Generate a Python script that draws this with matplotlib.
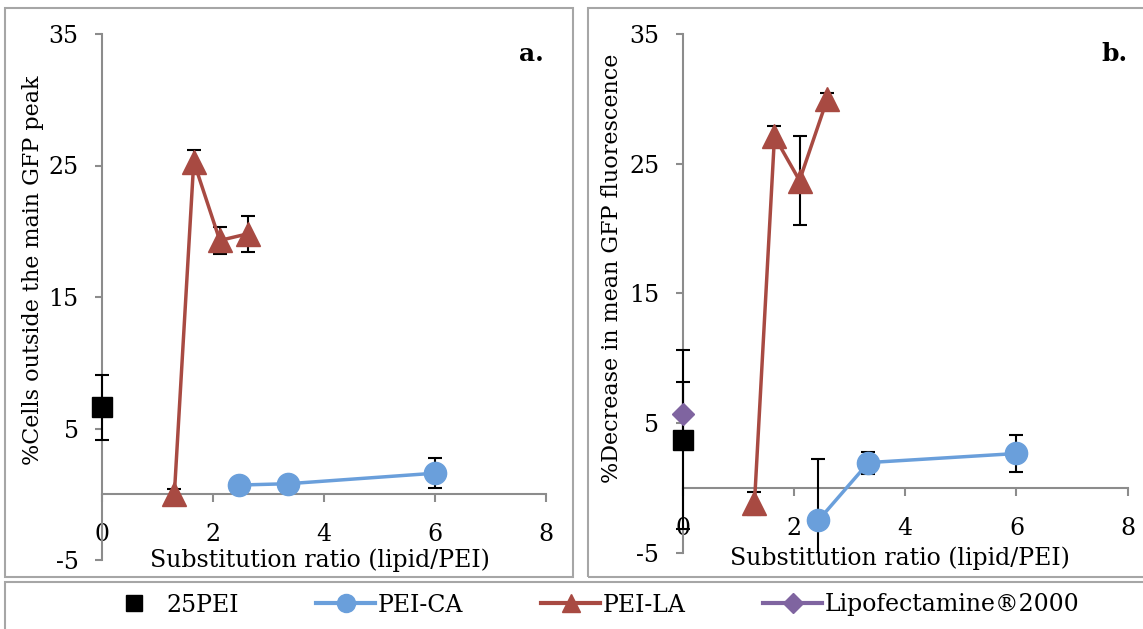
import matplotlib
matplotlib.use("Agg")
import matplotlib.pyplot as plt
from matplotlib.lines import Line2D
from matplotlib.patches import Rectangle
from matplotlib.transforms import Bbox, TransformedBbox

plt.rcParams['font.family'] = ['DejaVu Serif']
plt.rcParams['axes.unicode_minus'] = False

# ---- data -------------------------------------------------------------
# Panel a: % cells outside the main GFP peak
a_pei25_x = [0.0]
a_pei25_y = [6.6]
a_pei25_err = [2.5]

a_ca_x = [2.47, 3.35, 6.0]
a_ca_y = [0.7, 0.8, 1.6]
a_ca_err = [0.0, 0.0, 1.15]

a_la_x = [1.3, 1.65, 2.12, 2.62]
a_la_y = [0.0, 25.3, 19.3, 19.8]
a_la_err = [0.4, 0.9, 1.05, 1.35]

# Panel b: % decrease in mean GFP fluorescence
b_pei25_x = [0.0]
b_pei25_y = [3.7]
b_pei25_err = [6.9]

b_lipo_x = [0.0]
b_lipo_y = [5.7]
b_lipo_err = [2.45]

b_ca_x = [2.44, 3.34, 6.0]
b_ca_y = [-2.5, 1.95, 2.65]
b_ca_err = [4.75, 0.85, 1.4]

b_la_x = [1.29, 1.65, 2.1, 2.6]
b_la_y = [-1.2, 27.1, 23.7, 30.0]
b_la_err = [0.9, 0.8, 3.45, 0.45]

x_ticks = [0, 2, 4, 6, 8]
y_ticks = [-5, 5, 15, 25, 35]
x_label = "Substitution ratio (lipid/PEI)"
y_label_a = "%Cells outside the main GFP peak"
y_label_b = "%Decrease in mean GFP fluorescence"
legend_names = ["25PEI", "PEI-CA", "PEI-LA", "Lipofectamine®2000"]

# ---- styling ----------------------------------------------------------
C_BLACK = "#000000"
C_BLUE = "#6A9FDB"
C_RED = "#A84A42"
C_PURPLE = "#7F64A0"
C_AXIS = "#8C8C8C"
C_FRAME = "#A6A6A6"
FS = 17

fig = plt.figure(figsize=(11.43, 6.29), dpi=100)

# outer frames around panels and legend
for (x0, y0, w, h) in [(5, 8, 568, 569), (588, 8, 600, 569), (5, 582, 1180, 60)]:
    fig.patches.append(Rectangle((x0 / 1143, 1 - (y0 + h) / 629), w / 1143, h / 629,
                                 transform=fig.transFigure, fill=False,
                                 edgecolor=C_FRAME, linewidth=1.5))

ax_a = fig.add_axes([102.3 / 1143, 1 - 560 / 629, 443.4 / 1143, 526 / 629])
ax_b = fig.add_axes([682.7 / 1143, 1 - 552.7 / 629, 445 / 1143, 518.7 / 629])


def series(ax, x, y, err, color, marker, ms, line=True, z=3):
    cont = ax.errorbar(x, y, yerr=err, fmt='none', ecolor='black', elinewidth=1.5,
                       capsize=5, capthick=1.5, zorder=z)
    # error bars stop at the plot's y-range but may spill sideways past x = 0
    box = TransformedBbox(Bbox([[-0.1, 0.0], [1.2, 1.0]]), ax.transAxes)
    for art in list(cont.lines[1]) + list(cont.lines[2]):
        art.set_clip_on(True)
        art.set_clip_box(box)
    ax.plot(x, y, color=color, linewidth=2.5 if line else 0, marker=marker,
            markersize=ms, markerfacecolor=color, markeredgecolor=color,
            zorder=z + 1, clip_on=False)


def style(ax):
    ax.set_xlim(0, 8)
    ax.set_ylim(-5, 35)
    ax.set_xticks(x_ticks)
    ax.set_yticks(y_ticks)
    ax.spines['top'].set_visible(False)
    ax.spines['right'].set_visible(False)
    ax.spines['bottom'].set_position(('data', 0))
    for s in ('left', 'bottom'):
        ax.spines[s].set_color(C_AXIS)
        ax.spines[s].set_linewidth(1.5)
    ax.tick_params(axis='both', direction='out', color=C_AXIS, width=1.5,
                   labelsize=FS)
    ax.tick_params(axis='y', length=5, pad=12)
    ax.tick_params(axis='x', length=6, pad=15)
    ax.patch.set_visible(False)


style(ax_a)
series(ax_a, a_pei25_x, a_pei25_y, a_pei25_err, C_BLACK, 's', 14, line=False)
series(ax_a, a_ca_x, a_ca_y, a_ca_err, C_BLUE, 'o', 16)
series(ax_a, a_la_x, a_la_y, a_la_err, C_RED, '^', 17)
ax_a.set_ylabel(y_label_a, fontsize=FS - 1)
ax_a.yaxis.set_label_coords(-0.131, 0.551)
ax_a.text(0.995, 0.985, "a.", transform=ax_a.transAxes, ha='right', va='top',
          fontsize=FS + 1, fontweight='bold')

style(ax_b)
series(ax_b, b_pei25_x, b_pei25_y, b_pei25_err, C_BLACK, 's', 14, line=False)
series(ax_b, b_lipo_x, b_lipo_y, b_lipo_err, C_PURPLE, 'D', 11, line=False, z=5)
series(ax_b, b_ca_x, b_ca_y, b_ca_err, C_BLUE, 'o', 16)
series(ax_b, b_la_x, b_la_y, b_la_err, C_RED, '^', 17)
ax_b.set_ylabel(y_label_b, fontsize=FS - 1)
ax_b.yaxis.set_label_coords(-0.134, 0.549)
ax_b.text(1.0, 0.985, "b.", transform=ax_b.transAxes, ha='right', va='top',
          fontsize=FS + 1, fontweight='bold')

fig.text(320 / 1143, 1 - 560 / 629, x_label, ha='center', va='center', fontsize=FS)
fig.text(900 / 1143, 1 - 558 / 629, x_label, ha='center', va='center', fontsize=FS)

handles = [
    Line2D([], [], linestyle='none', marker='s', markersize=12, color=C_BLACK),
    Line2D([], [], color=C_BLUE, linewidth=3, marker='o', markersize=13),
    Line2D([], [], color=C_RED, linewidth=3, marker='^', markersize=13),
    Line2D([], [], color=C_PURPLE, linewidth=3, marker='D', markersize=10),
]
fig.legend(handles, legend_names, loc='center', bbox_to_anchor=(592 / 1143, 1 - 605 / 629),
           ncol=4, frameon=False, fontsize=FS, handlelength=2.5, handletextpad=0.1,
           columnspacing=3.3, borderaxespad=0)

fig.savefig("out.png", dpi=100)
